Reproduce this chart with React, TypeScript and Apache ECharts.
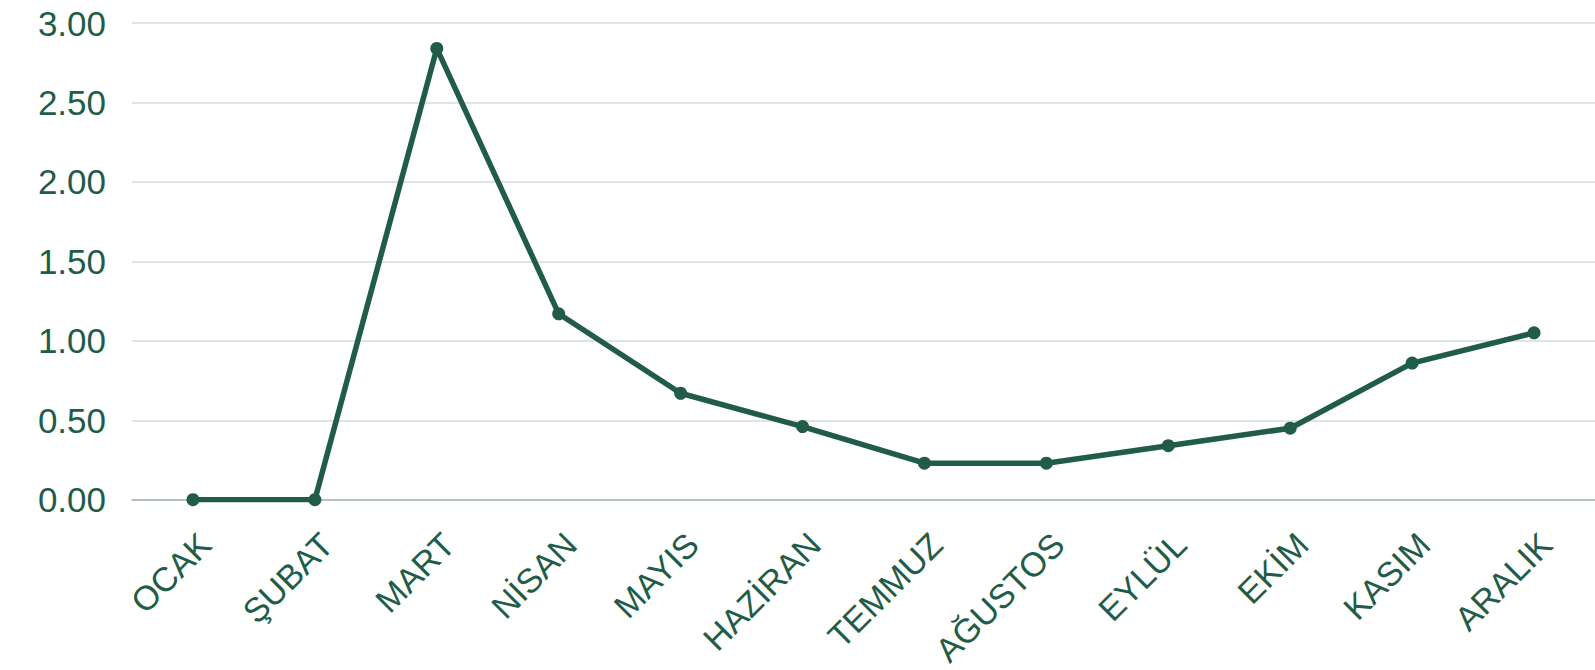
import React, { useEffect, useRef } from "react";
import * as echarts from "echarts";

const months = ["OCAK", "ŞUBAT", "MART", "NİSAN", "MAYIS", "HAZİRAN", "TEMMUZ", "AĞUSTOS", "EYLÜL", "EKİM", "KASIM", "ARALIK"];
const values = [0, 0, 2.84, 1.17, 0.67, 0.46, 0.23, 0.23, 0.34, 0.45, 0.86, 1.05];

const GREEN = "#215c48";

export default function App() {
  const ref = useRef<HTMLDivElement>(null);
  useEffect(() => {
    if (!ref.current) return;
    const chart = echarts.init(ref.current, null, { renderer: "svg" });
    chart.setOption({
      animation: false,
      grid: { left: 132, right: 0, top: 23, bottom: 169, containLabel: false },
      xAxis: {
        type: "category",
        data: months,
        boundaryGap: true,
        axisLine: { show: true, lineStyle: { color: "#a3b8b0", width: 1.5 } },
        axisTick: { show: false },
        axisLabel: {
          rotate: 45,
          margin: 27,
          color: GREEN,
          fontFamily: "Liberation Sans",
          fontSize: 34,
          lineHeight: 34,
          verticalAlign: "top",
          interval: 0,
        },
      },
      yAxis: {
        type: "value",
        min: 0,
        max: 3,
        interval: 0.5,
        axisLine: { show: false },
        axisTick: { show: false },
        splitLine: { lineStyle: { color: "#d4ddd9", width: 1.5 } },
        axisLabel: {
          color: GREEN,
          fontFamily: "Liberation Sans",
          fontSize: 35,
          margin: 26,
          formatter: (v: number) => v.toFixed(2),
        },
      },
      series: [
        {
          type: "line",
          data: values,
          symbol: "circle",
          symbolSize: 13,
          itemStyle: { color: GREEN },
          lineStyle: { color: GREEN, width: 5.5 },
        },
      ],
    });
    return () => chart.dispose();
  }, []);
  return <div ref={ref} style={{ position: "absolute", left: 0, top: 0, width: 1595, height: 670 }} />;
}
